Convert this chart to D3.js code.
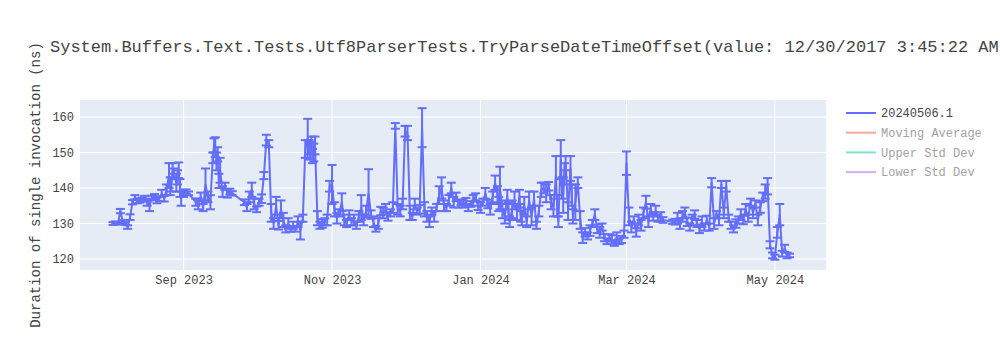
<!DOCTYPE html>
<html>
<head>
<meta charset="utf-8">
<script src="https://cdn.jsdelivr.net/npm/d3@7"></script>
<style>
  body { margin: 0; background: #fff; }
  text { font-family: "Courier New", "Liberation Mono", monospace; fill: #444; }
</style>
</head>
<body>
<script>
// one run per day, value in ns and its std dev (error bar)
var dates = [
  // Aug 2023
  '2023-08-03','2023-08-04','2023-08-05','2023-08-06','2023-08-07','2023-08-08','2023-08-09','2023-08-10','2023-08-11','2023-08-12',
  '2023-08-13','2023-08-14','2023-08-15','2023-08-16','2023-08-17','2023-08-18','2023-08-19','2023-08-20','2023-08-21','2023-08-22',
  '2023-08-23','2023-08-24','2023-08-25','2023-08-26','2023-08-27','2023-08-28','2023-08-29','2023-08-30','2023-08-31',
  // Sep 2023
  '2023-09-01','2023-09-02','2023-09-03','2023-09-06','2023-09-07','2023-09-08','2023-09-09','2023-09-10','2023-09-11','2023-09-12',
  '2023-09-13','2023-09-14','2023-09-15','2023-09-16','2023-09-17','2023-09-18','2023-09-19','2023-09-20','2023-09-21','2023-09-26',
  '2023-09-27','2023-09-28','2023-09-29','2023-09-30',
  // Oct 2023
  '2023-10-01','2023-10-02','2023-10-03','2023-10-04','2023-10-05','2023-10-06','2023-10-07','2023-10-08','2023-10-09','2023-10-10',
  '2023-10-11','2023-10-12','2023-10-13','2023-10-14','2023-10-15','2023-10-16','2023-10-17','2023-10-18','2023-10-19','2023-10-20',
  '2023-10-21','2023-10-22','2023-10-23','2023-10-24','2023-10-25','2023-10-26','2023-10-27','2023-10-28','2023-10-29','2023-10-30',
  '2023-10-31',
  // Nov 2023
  '2023-11-01','2023-11-02','2023-11-03','2023-11-04','2023-11-05','2023-11-06','2023-11-07','2023-11-08','2023-11-09','2023-11-10',
  '2023-11-11','2023-11-12','2023-11-13','2023-11-14','2023-11-15','2023-11-16','2023-11-17','2023-11-18','2023-11-19','2023-11-20',
  '2023-11-21','2023-11-22','2023-11-23','2023-11-24','2023-11-25','2023-11-26','2023-11-27','2023-11-28','2023-11-29','2023-11-30',
  // Dec 2023
  '2023-12-01','2023-12-02','2023-12-03','2023-12-04','2023-12-05','2023-12-06','2023-12-07','2023-12-08','2023-12-09','2023-12-10',
  '2023-12-11','2023-12-12','2023-12-13','2023-12-14','2023-12-15','2023-12-16','2023-12-17','2023-12-18','2023-12-19','2023-12-20',
  '2023-12-21','2023-12-22','2023-12-23','2023-12-24','2023-12-25','2023-12-26','2023-12-27','2023-12-28','2023-12-29','2023-12-30',
  '2023-12-31',
  // Jan 2024
  '2024-01-01','2024-01-02','2024-01-03','2024-01-04','2024-01-05','2024-01-06','2024-01-07','2024-01-08','2024-01-09','2024-01-10',
  '2024-01-11','2024-01-12','2024-01-13','2024-01-14','2024-01-15','2024-01-16','2024-01-17','2024-01-18','2024-01-19','2024-01-20',
  '2024-01-21','2024-01-22','2024-01-23','2024-01-24','2024-01-25','2024-01-26','2024-01-27','2024-01-28','2024-01-29','2024-01-30',
  '2024-01-31',
  // Feb 2024
  '2024-02-01','2024-02-02','2024-02-03','2024-02-04','2024-02-05','2024-02-06','2024-02-07','2024-02-08','2024-02-09','2024-02-10',
  '2024-02-11','2024-02-12','2024-02-13','2024-02-14','2024-02-15','2024-02-16','2024-02-17','2024-02-18','2024-02-19','2024-02-20',
  '2024-02-21','2024-02-22','2024-02-23','2024-02-24','2024-02-25','2024-02-26','2024-02-27','2024-02-28','2024-02-29',
  // Mar 2024
  '2024-03-01','2024-03-02','2024-03-03','2024-03-04','2024-03-05','2024-03-06','2024-03-07','2024-03-08','2024-03-09','2024-03-10',
  '2024-03-11','2024-03-12','2024-03-13','2024-03-14','2024-03-15','2024-03-16','2024-03-20','2024-03-21','2024-03-22','2024-03-23',
  '2024-03-24','2024-03-25','2024-03-26','2024-03-27','2024-03-28','2024-03-29','2024-03-30','2024-03-31',
  // Apr 2024
  '2024-04-01','2024-04-02','2024-04-03','2024-04-04','2024-04-05','2024-04-06','2024-04-07','2024-04-08','2024-04-09','2024-04-10',
  '2024-04-11','2024-04-12','2024-04-13','2024-04-14','2024-04-15','2024-04-16','2024-04-17','2024-04-18','2024-04-19','2024-04-20',
  '2024-04-21','2024-04-22','2024-04-23','2024-04-24','2024-04-25','2024-04-26','2024-04-27','2024-04-28','2024-04-29','2024-04-30',
  // May 2024
  '2024-05-01','2024-05-02','2024-05-03','2024-05-04','2024-05-05','2024-05-06','2024-05-07'
];

var values = [
  // Aug
  130.0,130.2,130.0,133.5,130.5,130.0,129.0,131.8,136.0,137.4,
  136.2,136.5,136.8,137.0,136.0,135.0,137.2,137.5,136.5,137.0,
  138.5,137.0,139.5,143.5,141.0,144.0,141.5,145.0,137.0,
  // Sep
  138.5,139.0,138.5,136.0,135.5,137.5,134.5,141.0,137.5,136.0,
  148.5,151.5,149.5,145.0,139.0,140.5,138.5,139.0,138.5,136.0,
  134.5,137.5,139.5,135.5,
  // Oct
  134.0,136.0,137.0,143.5,153.5,152.5,133.0,130.0,135.0,129.5,
  134.0,131.0,128.5,130.0,128.5,129.5,128.5,130.5,128.0,131.5,
  151.0,154.0,150.5,149.0,152.0,131.5,129.5,130.0,130.5,131.0,
  140.5,
  // Nov
  141.0,134.0,131.5,133.0,136.0,131.0,130.0,132.5,130.5,131.0,
  129.5,132.0,134.5,131.0,133.5,138.5,132.5,130.5,128.5,130.0,
  133.5,133.0,134.0,132.0,133.0,134.5,157.5,134.0,133.5,135.5,
  // Dec
  156.0,155.5,133.0,132.0,135.5,133.5,134.0,157.0,134.0,132.0,
  130.5,133.5,132.0,134.5,138.0,140.0,135.0,134.5,136.5,140.0,
  136.0,137.5,135.5,136.0,135.5,136.0,134.5,135.5,136.5,137.5,
  135.0,
  // Jan
  134.5,136.0,138.5,135.5,134.0,137.5,141.5,138.0,140.0,134.0,
  132.0,137.5,130.5,134.0,136.5,133.0,137.5,131.5,135.0,130.5,
  136.5,132.0,137.0,129.5,133.5,139.5,140.0,138.5,140.5,136.0,
  134.5,
  // Feb
  143.5,130.5,148.0,138.0,147.0,133.5,145.5,132.0,136.0,141.5,
  131.0,126.0,127.5,126.5,128.0,130.0,132.5,128.5,127.5,129.0,
  126.0,125.0,126.0,125.5,124.5,126.0,125.0,125.5,127.0,
  // Mar
  147.0,132.0,129.0,131.0,127.5,131.0,129.5,133.0,136.0,130.5,
  134.0,132.0,133.5,131.5,132.0,131.0,130.5,130.5,131.5,130.0,
  132.0,133.0,130.5,129.0,131.0,132.5,130.0,128.5,
  // Apr
  130.5,129.0,131.0,129.0,141.5,130.0,132.5,131.0,141.0,133.0,
  140.5,131.5,129.5,128.5,130.0,131.0,132.5,131.0,134.0,131.5,
  136.0,133.0,135.5,131.0,134.5,137.5,139.0,140.5,124.0,121.0,
  // May
  120.5,127.5,132.5,121.5,123.0,121.0,121.0
];

var stdDev = [
  // Aug
  0.4,0.4,0.3,0.6,0.5,0.4,0.5,0.8,0.6,0.6,
  0.5,0.6,0.5,0.8,1.0,1.5,0.6,0.8,0.8,0.7,
  1.0,0.8,1.5,3.5,2.0,1.5,2.5,2.2,2.0,
  // Sep
  1.0,0.6,0.5,1.0,1.5,1.2,1.0,4.5,1.5,2.0,
  1.5,2.8,2.0,3.5,1.5,1.0,1.2,0.8,0.6,0.8,
  1.0,1.5,2.0,1.5,
  // Oct
  0.8,1.0,1.2,1.0,1.5,1.0,2.5,1.5,2.5,1.2,
  2.5,2.0,1.0,1.5,0.8,1.0,0.8,1.5,2.5,1.0,
  2.5,5.5,2.5,2.0,2.5,2.0,1.0,1.2,1.0,1.5,
  1.5,
  // Nov
  5.5,2.0,1.5,1.0,2.5,1.5,1.0,1.2,1.0,1.5,
  1.0,1.5,3.5,1.5,1.5,6.8,1.2,1.5,0.8,1.5,
  1.2,1.5,1.5,1.2,1.0,1.5,0.8,1.5,1.5,1.5,
  // Dec
  1.5,2.0,2.0,1.0,1.5,1.0,1.2,5.5,2.0,1.5,
  1.5,1.0,1.5,1.0,2.5,3.0,1.5,1.0,1.5,1.5,
  1.5,1.2,1.0,0.8,1.0,1.2,1.0,0.8,1.5,1.0,
  1.2,
  // Jan
  1.5,1.0,1.5,1.2,1.5,1.5,2.0,2.5,6.0,2.5,
  2.0,2.0,1.5,2.5,2.5,2.0,2.0,2.0,2.5,1.5,
  2.5,2.5,2.0,1.0,1.5,2.0,1.5,2.5,1.2,2.0,
  2.5,
  // Feb
  5.5,1.5,5.5,5.0,2.0,2.5,3.5,2.0,5.0,1.5,
  2.5,1.5,1.2,1.0,1.5,1.0,1.5,1.2,1.5,1.0,
  1.0,0.8,1.0,1.2,0.8,1.5,0.8,1.0,1.0,
  // Mar
  3.3,2.5,1.5,1.0,1.2,1.5,1.5,1.5,1.8,1.5,
  1.5,1.2,1.5,1.0,1.2,0.8,0.6,0.8,1.5,1.5,
  1.5,1.5,1.2,1.0,1.5,1.2,1.0,1.2,
  // Apr
  1.5,1.0,1.2,1.0,1.3,1.5,1.0,1.5,1.0,1.5,
  1.5,1.0,1.0,1.0,1.2,1.0,1.5,1.2,1.5,1.0,
  1.0,1.5,1.0,1.5,1.5,1.2,2.0,2.3,1.0,0.8,
  // May
  0.7,1.5,3.0,0.8,1.0,0.8,0.5
];

// second run on the busy days
var extraDates = [
  '2023-08-26T12:00','2023-08-27T12:00','2023-08-29T12:00','2023-08-30T12:00',
  '2023-09-13T12:00','2023-09-14T12:00','2023-09-15T12:00',
  '2023-10-22T12:00','2023-10-23T12:00','2023-10-24T12:00',
  '2024-01-08T12:00','2024-01-12T12:00','2024-01-17T12:00',
  '2024-02-01T12:00','2024-02-03T12:00','2024-02-04T12:00','2024-02-07T12:00'
];
var extraValues = [
  140.5,145.5,143.0,140.0,
  152.0,147.5,142.0,
  151.5,153.0,150.0,
  135.5,133.5,132.5,
  135.0,140.0,144.0,138.0
];
var extraStdDev = [
  2.5,1.5,2.0,2.5,
  2.0,2.5,2.0,
  2.0,1.5,2.5,
  2.0,2.5,2.0,
  3.0,3.0,3.0,3.0
];

var yTicks = [120, 130, 140, 150, 160];
var xTicks = ['2023-09-01', '2023-11-01', '2024-01-01', '2024-03-01', '2024-05-01'];
var xRange = ['2023-07-20T10:00', '2024-05-22T00:00'];
var yRange = [116.9, 164.8];

var legendNames = ['20240506.1', 'Moving Average', 'Upper Std Dev', 'Lower Std Dev'];
var legendColors = ['#636efa', '#EF553B', '#00cc96', '#ab63fa'];
var legendHidden = [false, true, true, true];

var titleText = 'System.Buffers.Text.Tests.Utf8ParserTests.TryParseDateTimeOffset(value: 12/30/2017 3:45:22 AM';
var yTitle = 'Duration of single invocation (ns)';

var W = 1000, H = 350;
var margin = {left: 80, right: 174, top: 100, bottom: 80};
var plotW = W - margin.left - margin.right;
var plotH = H - margin.top - margin.bottom;

var parseDay = d3.timeParse('%Y-%m-%d');
var parseTime = d3.timeParse('%Y-%m-%dT%H:%M');
function parseDate(s) {
    return parseTime(s) || parseDay(s);
}

var dataset = dates.map(function (d, i) {
    return {date: parseDate(d), value: values[i], err: stdDev[i]};
}).concat(extraDates.map(function (d, i) {
    return {date: parseDate(d), value: extraValues[i], err: extraStdDev[i]};
}));
dataset.sort(function (a, b) { return a.date - b.date; });

var svg = d3.select('body')
    .append('svg')
    .attr('width', W)
    .attr('height', H);

var x = d3.scaleTime()
    .domain(xRange.map(parseDate))
    .range([margin.left, margin.left + plotW]);

var y = d3.scaleLinear()
    .domain(yRange)
    .range([margin.top + plotH, margin.top]);

// plot background
svg.append('rect')
    .attr('x', margin.left)
    .attr('y', margin.top)
    .attr('width', plotW)
    .attr('height', plotH)
    .attr('fill', '#e5ecf6');

// grid lines
svg.append('g')
    .selectAll('line')
    .data(xTicks.map(parseDate))
    .enter()
    .append('line')
    .attr('x1', function (d) { return x(d); })
    .attr('x2', function (d) { return x(d); })
    .attr('y1', margin.top)
    .attr('y2', margin.top + plotH)
    .attr('stroke', '#fff')
    .attr('stroke-width', 1);

svg.append('g')
    .selectAll('line')
    .data(yTicks)
    .enter()
    .append('line')
    .attr('x1', margin.left)
    .attr('x2', margin.left + plotW)
    .attr('y1', function (d) { return y(d); })
    .attr('y2', function (d) { return y(d); })
    .attr('stroke', '#fff')
    .attr('stroke-width', 1);

// axes (labels only, plotly style)
var xAxis = svg.append('g')
    .attr('transform', 'translate(0,' + (margin.top + plotH) + ')')
    .call(d3.axisBottom(x)
        .tickValues(xTicks.map(parseDate))
        .tickFormat(d3.timeFormat('%b %Y'))
        .tickSize(0)
        .tickPadding(5));
xAxis.select('.domain').remove();
xAxis.selectAll('text')
    .style('font-size', '12px')
    .style('font-family', '"Courier New", "Liberation Mono", monospace')
    .attr('fill', '#444');

var yAxis = svg.append('g')
    .attr('transform', 'translate(' + margin.left + ',0)')
    .call(d3.axisLeft(y)
        .tickValues(yTicks)
        .tickSize(0)
        .tickPadding(6));
yAxis.select('.domain').remove();
yAxis.selectAll('text')
    .style('font-size', '12px')
    .style('font-family', '"Courier New", "Liberation Mono", monospace')
    .attr('fill', '#444');

svg.append('clipPath')
    .attr('id', 'plotClip')
    .append('rect')
    .attr('x', margin.left)
    .attr('y', margin.top)
    .attr('width', plotW)
    .attr('height', plotH);

var plot = svg.append('g')
    .attr('clip-path', 'url(#plotClip)');

var line = d3.line()
    .x(function (d) { return x(d.date); })
    .y(function (d) { return y(d.value); });

plot.append('path')
    .datum(dataset)
    .attr('d', line)
    .attr('fill', 'none')
    .attr('stroke', '#636efa')
    .attr('stroke-width', 2)
    .attr('stroke-linejoin', 'round');

// error bars
var capHalf = 4.5;
var bars = plot.append('g')
    .attr('stroke', '#636efa')
    .attr('stroke-width', 2)
    .selectAll('g')
    .data(dataset)
    .enter()
    .append('g');

bars.append('line')
    .attr('x1', function (d) { return x(d.date); })
    .attr('x2', function (d) { return x(d.date); })
    .attr('y1', function (d) { return y(d.value - d.err); })
    .attr('y2', function (d) { return y(d.value + d.err); });

bars.append('line')
    .attr('x1', function (d) { return x(d.date) - capHalf; })
    .attr('x2', function (d) { return x(d.date) + capHalf; })
    .attr('y1', function (d) { return y(d.value + d.err); })
    .attr('y2', function (d) { return y(d.value + d.err); });

bars.append('line')
    .attr('x1', function (d) { return x(d.date) - capHalf; })
    .attr('x2', function (d) { return x(d.date) + capHalf; })
    .attr('y1', function (d) { return y(d.value - d.err); })
    .attr('y2', function (d) { return y(d.value - d.err); });

// title
svg.append('text')
    .attr('x', 50)
    .attr('y', 52)
    .style('font-size', '17px')
    .text(titleText);

// y axis title
svg.append('text')
    .attr('transform', 'translate(40,' + (margin.top + plotH / 2) + ') rotate(-90)')
    .attr('text-anchor', 'middle')
    .style('font-size', '14px')
    .text(yTitle);

// legend
var legend = svg.append('g')
    .selectAll('g')
    .data(legendNames)
    .enter()
    .append('g')
    .attr('transform', function (d, i) { return 'translate(846,' + (113 + i * 19.7) + ')'; })
    .attr('opacity', function (d, i) { return legendHidden[i] ? 0.5 : 1; });

legend.append('line')
    .attr('x1', 0)
    .attr('x2', 30)
    .attr('stroke', function (d, i) { return legendColors[i]; })
    .attr('stroke-width', 2);

legend.append('text')
    .attr('x', 35)
    .attr('dy', '0.35em')
    .style('font-size', '12px')
    .text(function (d) { return d; });
</script>
</body>
</html>
